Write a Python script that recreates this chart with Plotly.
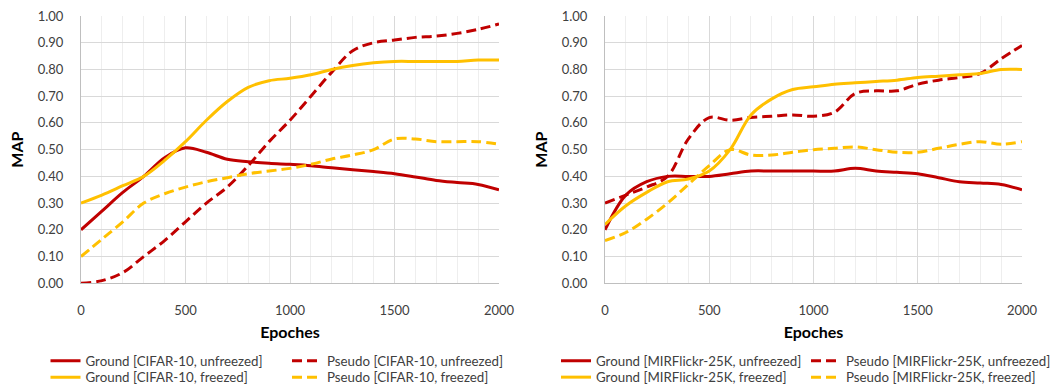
import plotly.graph_objects as go

epochs = list(range(0, 2001, 100))

# CIFAR-10
cifar_ground_unfreezed = [0.20, 0.27, 0.34, 0.40, 0.47, 0.507, 0.49, 0.464, 0.455, 0.449, 0.445,
                          0.44, 0.432, 0.425, 0.418, 0.41, 0.398, 0.385, 0.377, 0.37, 0.35]
cifar_pseudo_unfreezed = [0.00, 0.01, 0.04, 0.10, 0.16, 0.23, 0.30, 0.36, 0.44, 0.53, 0.61,
                          0.70, 0.79, 0.87, 0.90, 0.91, 0.92, 0.925, 0.935, 0.95, 0.97]
cifar_ground_freezed = [0.30, 0.33, 0.365, 0.40, 0.46, 0.53, 0.61, 0.68, 0.733, 0.758, 0.767,
                        0.78, 0.80, 0.815, 0.825, 0.83, 0.83, 0.83, 0.83, 0.835, 0.835]
cifar_pseudo_freezed = [0.10, 0.165, 0.23, 0.30, 0.335, 0.36, 0.38, 0.395, 0.41, 0.42, 0.43,
                        0.445, 0.465, 0.48, 0.50, 0.54, 0.54, 0.53, 0.53, 0.53, 0.52]

# MIRFlickr-25K
mir_ground_unfreezed = [0.20, 0.33, 0.38, 0.40, 0.40, 0.40, 0.41, 0.42, 0.42, 0.42, 0.42,
                        0.42, 0.43, 0.42, 0.415, 0.41, 0.395, 0.38, 0.375, 0.37, 0.35]
mir_pseudo_unfreezed = [0.30, 0.33, 0.36, 0.40, 0.54, 0.62, 0.61, 0.62, 0.625, 0.63, 0.625,
                        0.64, 0.71, 0.72, 0.72, 0.745, 0.76, 0.77, 0.785, 0.84, 0.89]
mir_ground_freezed = [0.22, 0.29, 0.34, 0.38, 0.39, 0.42, 0.50, 0.63, 0.69, 0.725, 0.735,
                      0.745, 0.75, 0.755, 0.76, 0.77, 0.775, 0.78, 0.785, 0.80, 0.80]
mir_pseudo_freezed = [0.16, 0.19, 0.24, 0.30, 0.37, 0.44, 0.50, 0.48, 0.48, 0.49, 0.50,
                      0.505, 0.51, 0.50, 0.49, 0.49, 0.505, 0.52, 0.53, 0.52, 0.53]

x_ticks = [0, 500, 1000, 1500, 2000]
y_ticks = [i / 10 for i in range(11)]

RED = "#C00000"
GOLD = "#FFC000"
DASH = "10px,5px"
FONT = "Lato"
W, H = 1056, 385

fig = go.Figure()

# legend anchor positions (px) : (text-left x, row centre y)
legend_pos = {
    "legend": (87.5, 361), "legend2": (87.5, 377.5),
    "legend3": (329, 361), "legend4": (329, 377.5),
    "legend5": (598, 361), "legend6": (598, 377.5),
    "legend7": (848, 361), "legend8": (848, 377.5),
}

def add(x, y, name, color, dash, xa, ya, legend):
    fig.add_trace(go.Scatter(
        x=x, y=y, name=name, mode="lines", showlegend=True,
        line=dict(color=color, width=3, dash=dash, shape="spline", smoothing=1.0),
        xaxis=xa, yaxis=ya, legend=legend))

add(epochs, cifar_ground_unfreezed, "Ground [CIFAR-10, unfreezed]", RED, "solid", "x", "y", "legend")
add(epochs, cifar_pseudo_unfreezed, "Pseudo [CIFAR-10, unfreezed]", RED, DASH, "x", "y", "legend3")
add(epochs, cifar_ground_freezed, "Ground [CIFAR-10, freezed]", GOLD, "solid", "x", "y", "legend2")
add(epochs, cifar_pseudo_freezed, "Pseudo [CIFAR-10, freezed]", GOLD, DASH, "x", "y", "legend4")

add(epochs, mir_ground_unfreezed, "Ground [MIRFlickr-25K, unfreezed]", RED, "solid", "x2", "y2", "legend5")
add(epochs, mir_pseudo_unfreezed, "Pseudo [MIRFlickr-25K, unfreezed]", RED, DASH, "x2", "y2", "legend7")
add(epochs, mir_ground_freezed, "Ground [MIRFlickr-25K, freezed]", GOLD, "solid", "x2", "y2", "legend6")
add(epochs, mir_pseudo_freezed, "Pseudo [MIRFlickr-25K, freezed]", GOLD, DASH, "x2", "y2", "legend8")

ydom = [(H - 283.3) / H, (H - 16) / H]

xaxis_common = dict(
    range=[0, 2000], tickvals=x_ticks, showgrid=True, gridcolor="#D9D9D9", gridwidth=1,
    minor=dict(dtick=100, tick0=0, showgrid=True, gridcolor="#EEEEEE", gridwidth=1),
    showline=True, linecolor="#BFBFBF", linewidth=1, zeroline=False,
    tickfont=dict(family=FONT, size=13, color="#404040"), ticks="", ticklabelstandoff=15,
    title=dict(text="<b>Epoches</b>", font=dict(family=FONT, size=16, color="#000000"), standoff=9),
)
yaxis_common = dict(
    range=[0, 1.0], tickvals=y_ticks, tickformat=".2f", showgrid=True, gridcolor="#D9D9D9", gridwidth=1,
    showline=True, linecolor="#BFBFBF", linewidth=1, zeroline=False,
    tickfont=dict(family=FONT, size=13, color="#404040"), ticks="", ticklabelstandoff=14,
    title=dict(text="<b>MAP</b>", font=dict(family=FONT, size=16, color="#000000"), standoff=10),
    domain=ydom,
)

fig.update_layout(
    width=W, height=H,
    margin=dict(l=0, r=0, t=0, b=0, autoexpand=False),
    paper_bgcolor="white", plot_bgcolor="white",
    showlegend=True,
    font=dict(family=FONT, size=13, color="#404040"),
    xaxis=dict(domain=[81 / W, 499 / W], anchor="y", **xaxis_common),
    yaxis=dict(anchor="x", **yaxis_common),
    xaxis2=dict(domain=[605 / W, 1022 / W], anchor="y2", **xaxis_common),
    yaxis2=dict(anchor="x2", **yaxis_common),
)

leg_common = dict(orientation="v", yref="paper", xref="paper", yanchor="middle", xanchor="left",
                  bgcolor="rgba(0,0,0,0)", font=dict(family=FONT, size=13.3, color="#404040"),
                  itemwidth=30, tracegroupgap=0, traceorder="normal", visible=True)
legends = {}
for key, (tx, cy) in legend_pos.items():
    legends[key] = dict(x=(tx - 42) / W, y=(H - cy) / H, **leg_common)
fig.update_layout(**legends)

fig.write_html("out.html",
               config={"displayModeBar": False},
               post_script="document.body.style.margin='0';document.body.style.overflow='hidden';")
